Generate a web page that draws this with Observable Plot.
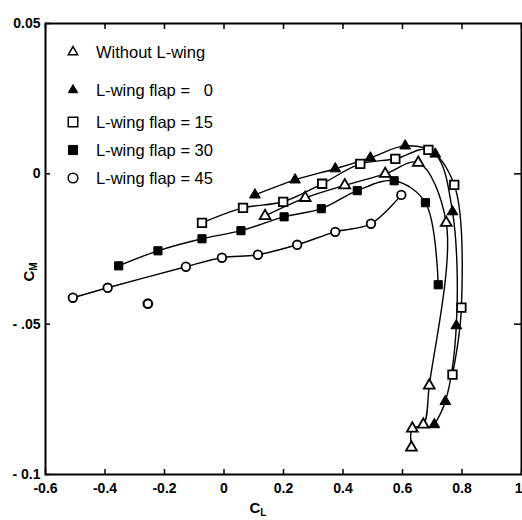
<!DOCTYPE html>
<html>
<head>
<meta charset="utf-8">
<script src="https://cdn.jsdelivr.net/npm/d3@7"></script>
<script src="https://cdn.jsdelivr.net/npm/@observablehq/plot@0.6"></script>
<style>
  html, body { margin: 0; padding: 0; background: #fff; }
  #chart { width: 522px; height: 520px; }
</style>
</head>
<body>
<div id="chart"></div>
<script>
// ---- tick labels ----
const xTicks = [-0.6, -0.4, -0.2, 0, 0.2, 0.4, 0.6, 0.8, 1];
const xTickLabels = ["-0.6", "-0.4", "-0.2", "0", "0.2", "0.4", "0.6", "0.8", "1"];
const yTicks = [0.05, 0, -0.05, -0.1];
const yTickLabels = ["0.05", "0", "- .05", "- 0.1"];
const yRightTicks = [0, -0.05];

// ---- series names ----
const seriesNames = ["Without L-wing", "L-wing flap = \u20070", "L-wing flap = 15", "L-wing flap = 30", "L-wing flap = 45"];

// ---- Without L-wing (open triangles) ----
const noWingCL = [0.138, 0.273, 0.406, 0.542, 0.653, 0.747, 0.690, 0.670, 0.633, 0.630];
const noWingCM = [-0.0140, -0.0080, -0.0038, 0.0000, 0.0037, -0.0163, -0.0704, -0.0834, -0.0847, -0.0910];

// ---- L-wing flap = 0 (filled triangles) ----
const flap0CL = [0.104, 0.239, 0.374, 0.492, 0.609, 0.710, 0.768, 0.781, 0.744, 0.707];
const flap0CM = [-0.0070, -0.0020, 0.0017, 0.0053, 0.0093, 0.0066, -0.0126, -0.0505, -0.0757, -0.0834];

// ---- L-wing flap = 15 (open squares) ----
const flap15CL = [-0.074, 0.064, 0.199, 0.330, 0.458, 0.576, 0.687, 0.774, 0.798, 0.768];
const flap15CM = [-0.0163, -0.0113, -0.0093, -0.0033, 0.0033, 0.0050, 0.0080, -0.0037, -0.0445, -0.0668];

// ---- L-wing flap = 30 (filled squares) ----
const flap30CL = [-0.354, -0.222, -0.074, 0.057, 0.202, 0.327, 0.448, 0.572, 0.677, 0.720];
const flap30CM = [-0.0306, -0.0256, -0.0216, -0.0189, -0.0143, -0.0116, -0.0056, -0.0023, -0.0096, -0.0369];

// ---- L-wing flap = 45 (open circles) ----
const flap45CL = [-0.508, -0.391, -0.128, -0.007, 0.114, 0.246, 0.374, 0.494, 0.596];
const flap45CM = [-0.0412, -0.0379, -0.0309, -0.0279, -0.0269, -0.0236, -0.0193, -0.0166, -0.0070];
// isolated (unconnected) flap = 45 point
const flap45IsoCL = [-0.256];
const flap45IsoCM = [-0.0432];

// ---- build tables ----
const toRows = (cl, cm) => cl.map((x, i) => ({x, y: cm[i]}));
const series = [
  {name: seriesNames[0], symbol: "triangle", filled: false, r: 4.0, rows: toRows(noWingCL, noWingCM)},
  {name: seriesNames[1], symbol: "triangle", filled: true,  r: 4.0, rows: toRows(flap0CL, flap0CM)},
  {name: seriesNames[2], symbol: "square",   filled: false, r: 4.8, rows: toRows(flap15CL, flap15CM)},
  {name: seriesNames[3], symbol: "square",   filled: true,  r: 4.6, rows: toRows(flap30CL, flap30CM)},
  {name: seriesNames[4], symbol: "circle",   filled: false, r: 4.3, rows: toRows(flap45CL, flap45CM)}
];
const isoRows = toRows(flap45IsoCL, flap45IsoCM);

const fontFamily = "'Liberation Sans', Arial, Helvetica, sans-serif";

const lineMarks = series.map(s => Plot.line(s.rows, {
  x: "x", y: "y", curve: "catmull-rom", stroke: "#000", strokeWidth: 1.4
}));
const dotMarks = series.map(s => Plot.dot(s.rows, {
  x: "x", y: "y", symbol: s.symbol, r: s.r,
  fill: s.filled ? "#000" : "#fff", stroke: "#000", strokeWidth: s.filled ? 1 : 1.8
}));

const lastX = xTicks[xTicks.length - 1];

const plot = Plot.plot({
  width: 522,
  height: 520,
  marginLeft: 45,
  marginRight: 1,
  marginTop: 23,
  marginBottom: 46,
  x: {domain: [-0.6, 1]},
  y: {domain: [-0.1, 0.05]},
  style: {fontFamily, fontSize: "14px", fontWeight: "bold", color: "#000", background: "#fff", overflow: "visible"},
  marks: [
    Plot.axisX({anchor: "bottom", ticks: xTicks, tickFormat: d => d === lastX ? "" : xTickLabels[xTicks.indexOf(d)], tickSize: -5, tickPadding: 14, strokeWidth: 1.5, label: null}),
    Plot.axisX({anchor: "bottom", ticks: [lastX], tickFormat: d => xTickLabels[xTicks.indexOf(d)], tickSize: 0, tickPadding: 9, textAnchor: "end", dx: 1, label: null}),
    Plot.axisX({anchor: "top", ticks: xTicks, tickFormat: () => "", tickSize: -5, strokeWidth: 1.5, label: null}),
    Plot.axisY({anchor: "left", ticks: yTicks, tickFormat: d => yTickLabels[yTicks.indexOf(d)], tickSize: -5, tickPadding: 10, strokeWidth: 1.5, label: null}),
    Plot.axisY({anchor: "right", ticks: yRightTicks, tickFormat: () => "", tickSize: -8, strokeWidth: 1.5, label: null}),
    Plot.frame({stroke: "#000", strokeWidth: 2}),
    ...lineMarks,
    ...dotMarks,
    Plot.dot(isoRows, {x: "x", y: "y", symbol: "circle", r: 4.3, fill: "#fff", stroke: "#000", strokeWidth: 2.2})
  ]
});

document.getElementById("chart").appendChild(plot);

// ---- axis titles with subscripts ----
const svg = d3.select(plot);
const xl = svg.append("text")
  .attr("x", 258).attr("y", 513)
  .attr("text-anchor", "middle")
  .attr("font-family", fontFamily).attr("font-size", 15).attr("font-weight", "bold")
  .attr("fill", "#000")
  .text("C");
xl.append("tspan").attr("font-size", 10).attr("dy", 3).text("L");

const yl = svg.append("text")
  .attr("transform", "translate(34,272) rotate(-90)")
  .attr("text-anchor", "middle")
  .attr("font-family", fontFamily).attr("font-size", 15).attr("font-weight", "bold")
  .attr("fill", "#000")
  .text("C");
yl.append("tspan").attr("font-size", 10).attr("dy", 3).text("M");

// ---- legend (inside the frame, top-left) ----
const legendRowsY = [52, 90, 122, 150, 178];
const symbolMap = {triangle: d3.symbolTriangle2, square: d3.symbolSquare, circle: d3.symbolCircle};
const lg = svg.append("g")
  .attr("font-family", fontFamily).attr("font-size", 16.5).attr("font-weight", "normal")
  .attr("text-anchor", "start");
series.forEach((s, i) => {
  const y = legendRowsY[i];
  const rr = s.r * 1.12;
  lg.append("path")
    .attr("transform", `translate(73,${y})`)
    .attr("d", d3.symbol(symbolMap[s.symbol], Math.PI * rr * rr)())
    .attr("fill", s.filled ? "#000" : "#fff")
    .attr("stroke", "#000")
    .attr("stroke-width", s.filled ? 1 : 1.5);
  lg.append("text")
    .attr("x", 96).attr("y", y).attr("dy", "0.35em")
    .attr("text-anchor", "start")
    .attr("fill", "#000")
    .text(s.name);
});
</script>
</body>
</html>
